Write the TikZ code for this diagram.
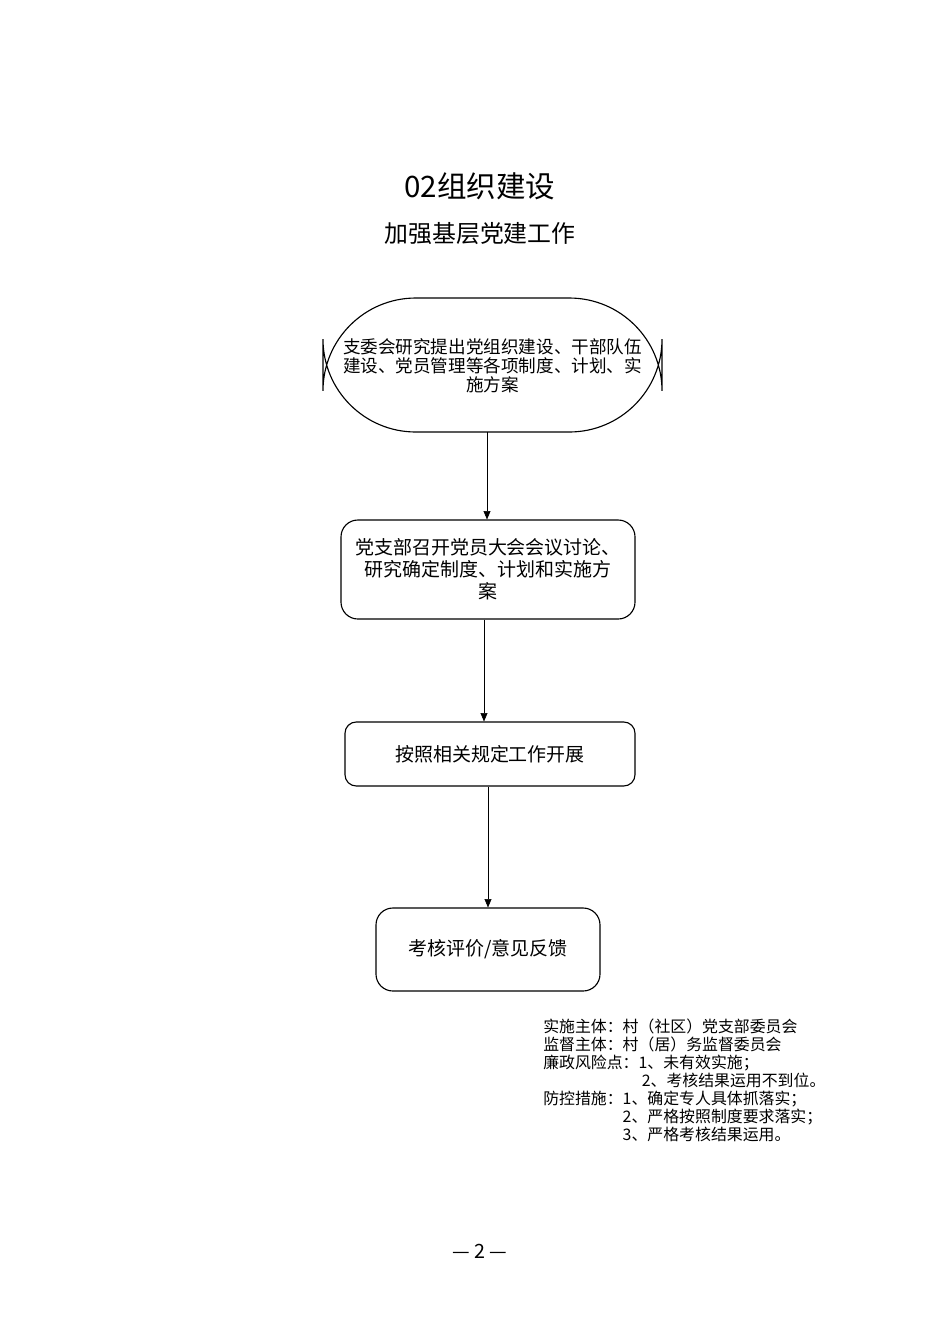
\documentclass[tikz,border=0pt]{standalone}
\usepackage{fontspec}
\setmainfont{Noto Sans CJK SC}
\newfontfamily\serifcjk{Noto Sans CJK SC}
\usetikzlibrary{arrows.meta}
\tikzset{
  stepbox/.style={draw, thick, rounded corners=12pt, align=center},
  flowline/.style={-{Triangle[length=6pt,width=5pt]}}
}
\begin{document}
\begin{tikzpicture}[x=0.025cm, y=-0.025cm]
  \useasboundingbox (0,0) rectangle (950,1344);
  % titles
  \node (title) at (480,186) {\fontsize{21pt}{24pt}\selectfont 02组织建设};
  \node (subtitle) at (480,234) {\fontsize{17pt}{20pt}\selectfont 加强基层党建工作};
  % boxes
  \draw[thick, rounded corners=66pt] (323,298) rectangle (662,432);
  \node (b1) at (492.5,365) {};
  \node[align=center, font=\fontsize{12.5pt}{13.5pt}\selectfont] at (492.5,366)
    {支委会研究提出党组织建设、干部队伍\\建设、党员管理等各项制度、计划、实\\施方案};
  \node[stepbox, minimum width=294*0.025cm, minimum height=99*0.025cm,
        font=\fontsize{13.5pt}{15.5pt}\selectfont] (b2) at (488,569.5)
    {党支部召开党员大会会议讨论、\\研究确定制度、计划和实施方\\案};
  \node[stepbox, rounded corners=8pt, minimum width=290*0.025cm, minimum height=64*0.025cm,
        font=\fontsize{13.5pt}{15.5pt}\selectfont] (b3) at (490,754)
    {按照相关规定工作开展};
  \node[stepbox, minimum width=224*0.025cm, minimum height=83*0.025cm,
        font=\fontsize{13.5pt}{15.5pt}\selectfont] (b4) at (488,949.5)
    {考核评价/意见反馈};
  % arrows
  \coordinate (a1) at (487,432);
  \draw[flowline] (a1) -- (a1 |- b2.north);
  \draw[flowline] (b2.south -| 484,0) -- (b3.north -| 484,0);
  \draw[flowline] (b3.south -| 488,0) -- (b4.north);
  % notes
  \node[anchor=north west, align=left, inner sep=0pt,
        font=\fontsize{11.3pt}{12.8pt}\selectfont] (notes) at (543,1019)
    {实施主体：村（社区）党支部委员会\\
     监督主体：村（居）务监督委员会\\
     廉政风险点：1、未有效实施；\\
     \hspace{6.2em}2、考核结果运用不到位。\\
     防控措施：1、确定专人具体抓落实；\\
     \hspace{5em}2、严格按照制度要求落实；\\
     \hspace{5em}3、严格考核结果运用。};
  % page number
  \node (page) at (480,1251) {\fontsize{14pt}{16pt}\selectfont — 2 —};
\end{tikzpicture}
\end{document}
